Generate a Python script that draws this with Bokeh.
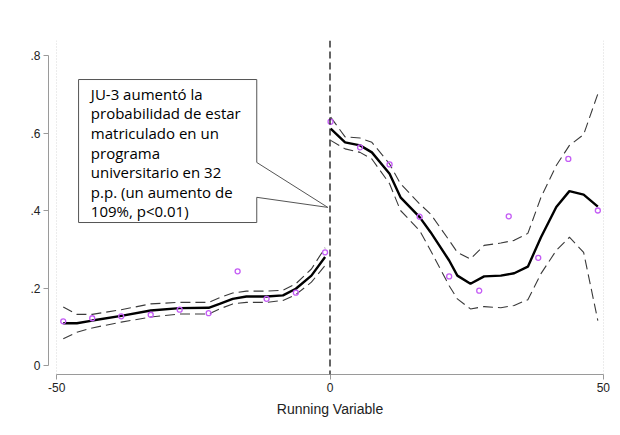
from bokeh.plotting import figure
from bokeh.models import Range1d, Span, FixedTicker
from bokeh.core.properties import value
from bokeh.embed import file_html
from bokeh.resources import INLINE

# ---- data ----
bin_x = [-48.8, -43.5, -38.2, -32.8, -27.5, -22.2, -16.9, -11.6, -6.25, -0.9,
         0.1, 5.5, 10.9, 16.4, 21.8, 27.3, 32.7, 38.1, 43.6, 49.0]
bin_y = [0.114, 0.122, 0.127, 0.131, 0.144, 0.135, 0.243, 0.172, 0.188, 0.292,
         0.629, 0.563, 0.519, 0.384, 0.230, 0.193, 0.385, 0.278, 0.533, 0.400]

left_x = [-48.8, -46.3, -43.5, -38.2, -32.8, -27.5, -22.2, -20.2, -17.8, -15.3,
          -11.6, -8.6, -6.25, -3.4, -0.9]
left_fit = [0.109, 0.109, 0.116, 0.128, 0.142, 0.148, 0.149, 0.159, 0.172, 0.178,
            0.178, 0.181, 0.198, 0.232, 0.280]
left_hi = [0.151, 0.132, 0.132, 0.144, 0.159, 0.163, 0.163, 0.175, 0.187, 0.192,
           0.192, 0.194, 0.211, 0.249, 0.304]
left_lo = [0.069, 0.086, 0.097, 0.112, 0.125, 0.133, 0.133, 0.146, 0.159, 0.163,
           0.163, 0.168, 0.183, 0.215, 0.258]

right_x = [0.12, 2.76, 5.5, 7.66, 10.9, 12.9, 16.4, 18.4, 21.8, 23.3,
           25.7, 28.2, 31.25, 33.7, 36.2, 38.6, 41.4, 43.8, 46.4, 49.0]
right_fit = [0.611, 0.576, 0.568, 0.550, 0.495, 0.434, 0.383, 0.344, 0.271, 0.232,
             0.211, 0.230, 0.232, 0.238, 0.255, 0.331, 0.409, 0.450, 0.441, 0.410]
right_hi = [0.641, 0.590, 0.587, 0.576, 0.520, 0.469, 0.417, 0.391, 0.323, 0.292,
            0.275, 0.310, 0.316, 0.323, 0.341, 0.434, 0.516, 0.568, 0.596, 0.701]
right_lo = [0.581, 0.559, 0.550, 0.533, 0.469, 0.400, 0.348, 0.297, 0.206, 0.172,
            0.146, 0.152, 0.149, 0.155, 0.170, 0.237, 0.297, 0.331, 0.292, 0.116]

y_ticks = [0, 0.2, 0.4, 0.6, 0.8]
y_tick_labels = ["0", ".2", ".4", ".6", ".8"]
x_ticks = [-50, 0, 50]
x_tick_labels = ["-50", "0", "50"]

callout_text = ("JU-3 aumentó la\nprobabilidad de estar\nmatriculado en un\nprograma\n"
                "universitario en 32\np.p. (un aumento de\n109%, p<0.01)")
callout_x = [-46.0, -13.4, -13.4, -0.4, -13.4, -13.4, -46.0]
callout_y = [0.738, 0.738, 0.524, 0.408, 0.434, 0.369, 0.369]

AX_FONT = "Liberation Sans Narrow, Liberation Sans, Arial, sans-serif"

p = figure(width=620, height=435, output_backend="svg", toolbar_location=None,
           x_range=Range1d(-51.5, 51.5), y_range=Range1d(-0.0232, 0.8387),
           min_border_left=48, min_border_right=9, min_border_top=40, min_border_bottom=61)
p.outline_line_color = None
p.background_fill_color = "white"
p.border_fill_color = "white"

# grid: faint dotted verticals
p.ygrid.visible = False
p.xgrid.ticker = FixedTicker(ticks=[-50, 50])
p.xgrid.grid_line_color = "#d8d8d8"
p.xgrid.grid_line_dash = "1 2"
p.xgrid.grid_line_width = 1

# axes
for ax in (p.xaxis[0], p.yaxis[0]):
    ax.axis_line_color = "#9a9a9a"
    ax.major_tick_line_color = "#9a9a9a"
    ax.minor_tick_line_color = None
    ax.major_tick_in = 0
    ax.major_tick_out = 5
    ax.major_label_text_font = AX_FONT
    ax.major_label_text_font_size = "12px"
    ax.major_label_text_color = "#222222"

p.xaxis.ticker = FixedTicker(ticks=x_ticks)
p.xaxis.major_label_overrides = {t: l for t, l in zip(x_ticks, x_tick_labels)}
p.xaxis.bounds = (-50, 50)
p.xaxis.axis_label = "Running Variable"
p.xaxis.axis_label_text_font = AX_FONT
p.xaxis.axis_label_text_font_size = "14px"
p.xaxis.axis_label_text_font_style = "normal"
p.xaxis.axis_label_text_color = "#222222"
p.xaxis.axis_label_standoff = 6
p.xaxis.major_label_standoff = 3

p.yaxis.ticker = FixedTicker(ticks=y_ticks)
p.yaxis.bounds = (0, 0.8)
p.yaxis.major_label_overrides = {t: l for t, l in zip(y_ticks, y_tick_labels)}
p.yaxis.major_label_orientation = 0
p.yaxis.major_label_standoff = 3

# cutoff line
p.add_layout(Span(location=0, dimension="height", line_color="#111111",
                  line_dash="7 4", line_width=1.3))

# CI bands (dashed)
for xs, ys in ((left_x, left_hi), (left_x, left_lo), (right_x, right_hi), (right_x, right_lo)):
    p.line(xs, ys, line_color="#3a3a3a", line_dash="10 5", line_width=1.1)

# fitted lines
p.line(left_x, left_fit, line_color="black", line_width=2.4)
p.line(right_x, right_fit, line_color="black", line_width=2.4)

# bin means
p.scatter(bin_x, bin_y, marker="circle", size=5, fill_color=None,
          line_color="#c45cf5", line_width=1.3)

# callout box
p.patch(callout_x, callout_y, fill_color="white", line_color="#555555", line_width=1)
p.text(x=[-43.75], y=[0.727], text=[callout_text], text_font=value("Open Sans"),
       text_font_size="15px", text_color="black", text_align="left",
       text_baseline="top", text_line_height=0.98)

open("out.html", "w").write(file_html(p, INLINE))
